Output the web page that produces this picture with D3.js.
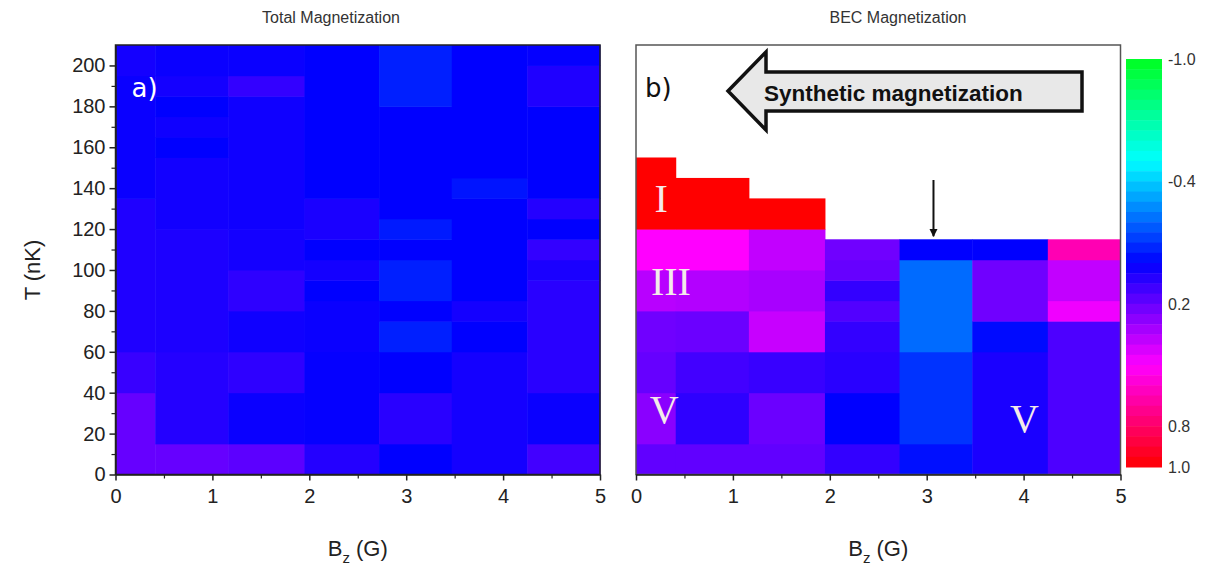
<!DOCTYPE html>
<html>
<head>
<meta charset="utf-8">
<script src="https://cdn.jsdelivr.net/npm/d3@7"></script>
<style>
  body { margin: 0; background: #fff; }
  svg { display: block; }
  .tick text { font-family: "Liberation Sans", Arial, sans-serif; }
</style>
</head>
<body>
<div id="main"></div>
<script>
// column edges along Bz (G), shared by both maps
const bzEdges = [0, 0.41, 1.165, 1.95, 2.72, 3.47, 4.25, 5];
const bzTicks = [0, 1, 2, 3, 4, 5];
const tTicks = [0, 20, 40, 60, 80, 100, 120, 140, 160, 180, 200];
const barTicks = [-1.0, -0.4, 0.2, 0.8, 1.0];

// each column: [T low, T high, magnetization]
const totalMag = [
  [[0, 40, 0.2], [40, 60, 0.11], [60, 135, 0.06], [135, 195, 0.02], [195, 210, 0.04]],
  [[0, 15, 0.2], [15, 60, 0.07], [60, 120, 0.055], [120, 155, 0.035], [155, 165, 0.0], [165, 175, 0.03], [175, 185, 0.0], [185, 195, 0.04], [195, 210, 0.02]],
  [[0, 15, 0.18], [15, 40, 0.02], [40, 60, 0.09], [60, 80, 0.03], [80, 100, 0.09], [100, 120, 0.04], [120, 185, 0.03], [185, 195, 0.1], [195, 210, 0.02]],
  [[0, 15, 0.07], [15, 60, 0.01], [60, 85, 0.02], [85, 95, 0.0], [95, 105, 0.04], [105, 115, 0.0], [115, 135, 0.05], [135, 210, 0.0]],
  [[0, 15, 0.0], [15, 40, 0.08], [40, 60, 0.0], [60, 75, -0.06], [75, 85, 0.0], [85, 105, -0.06], [105, 115, 0.0], [115, 125, -0.05], [125, 180, 0.0], [180, 210, -0.06]],
  [[0, 60, 0.04], [60, 75, 0.0], [75, 85, 0.04], [85, 135, 0.0], [135, 145, -0.04], [145, 210, 0.0]],
  [[0, 15, 0.13], [15, 40, 0.02], [40, 95, 0.08], [95, 105, 0.05], [105, 115, 0.1], [115, 125, 0.0], [125, 135, 0.07], [135, 180, 0.0], [180, 200, 0.06], [200, 210, 0.01]]
];

const becMag = [
  [[0, 15, 0.19], [15, 40, 0.27], [40, 60, 0.2], [60, 80, 0.22], [80, 100, 0.36], [100, 120, 0.5], [120, 155, 1.0]],
  [[0, 15, 0.19], [15, 40, 0.09], [40, 60, 0.13], [60, 80, 0.21], [80, 100, 0.35], [100, 120, 0.5], [120, 145, 1.0]],
  [[0, 15, 0.19], [15, 40, 0.21], [40, 60, 0.11], [60, 80, 0.39], [80, 100, 0.33], [100, 120, 0.38], [120, 135, 1.0]],
  [[0, 15, 0.1], [15, 40, 0.0], [40, 60, 0.08], [60, 75, 0.1], [75, 85, 0.16], [85, 95, 0.1], [95, 105, 0.2], [105, 115, 0.22]],
  [[0, 15, -0.03], [15, 60, -0.1], [60, 105, -0.21], [105, 115, 0.0]],
  [[0, 60, 0.05], [60, 75, -0.02], [75, 105, 0.22], [105, 115, 0.0]],
  [[0, 75, 0.15], [75, 85, 0.47], [85, 105, 0.38], [105, 115, 0.65]]
];

const W = 1205, H = 569;
const font = '"Liberation Sans", Arial, sans-serif';

const color = d3.scaleLinear()
  .domain([-1, -0.5, 0, 0.5, 1])
  .range(["#00ff20", "#00ffff", "#0000ff", "#ff00ff", "#ff0000"])
  .clamp(true);

const y = d3.scaleLinear().domain([0, 210]).range([474.5, 45]);

const svg = d3.select("#main").append("svg")
  .attr("width", W)
  .attr("height", H);

function drawPanel(cols, x0, x1, opts) {
  const x = d3.scaleLinear().domain([0, 5]).range([x0, x1]);
  const g = svg.append("g");

  cols.forEach((segs, i) => {
    g.selectAll(null)
      .data(segs)
      .join("rect")
      .attr("x", x(bzEdges[i]))
      .attr("width", x(bzEdges[i + 1]) - x(bzEdges[i]) + 0.5)
      .attr("y", d => y(d[1]))
      .attr("height", d => y(d[0]) - y(d[1]) + 0.5)
      .attr("fill", d => color(d[2]));
  });

  // frame
  g.append("rect")
    .attr("x", x0).attr("y", y(210))
    .attr("width", x1 - x0).attr("height", y(0) - y(210))
    .attr("fill", "none")
    .attr("stroke", opts.frame)
    .attr("stroke-width", 1.5);

  // x axis: major + minor ticks
  const xAxis = g.append("g")
    .attr("transform", `translate(0,${y(0)})`)
    .call(d3.axisBottom(x).tickValues(bzTicks).tickFormat(d3.format("d"))
      .tickSize(6).tickPadding(8).tickSizeOuter(0));
  xAxis.select(".domain").attr("stroke", "#222").attr("stroke-width", 1.5);
  xAxis.selectAll(".tick line").attr("stroke", "#222").attr("stroke-width", 1.5);
  xAxis.selectAll(".tick text").attr("font-size", 20).attr("fill", "#222");
  g.append("g")
    .attr("transform", `translate(0,${y(0)})`)
    .call(d3.axisBottom(x).tickValues(d3.range(0.5, 5, 1)).tickSize(4).tickFormat(""))
    .call(a => a.select(".domain").remove())
    .selectAll(".tick line").attr("stroke", "#222").attr("stroke-width", 1.2);

  if (opts.yAxis) {
    const yAxis = g.append("g")
      .attr("transform", `translate(${x0},0)`)
      .call(d3.axisLeft(y).tickValues(tTicks).tickFormat(d3.format("d"))
        .tickSize(6).tickPadding(4).tickSizeOuter(0));
    yAxis.select(".domain").attr("stroke", "#222").attr("stroke-width", 1.5);
    yAxis.selectAll(".tick line").attr("stroke", "#222").attr("stroke-width", 1.5);
    yAxis.selectAll(".tick text").attr("font-size", 20).attr("fill", "#222");
    g.append("g")
      .attr("transform", `translate(${x0},0)`)
      .call(d3.axisLeft(y).tickValues(d3.range(10, 210, 20)).tickSize(4).tickFormat(""))
      .call(a => a.select(".domain").remove())
      .selectAll(".tick line").attr("stroke", "#222").attr("stroke-width", 1.2);
  }

  // title
  svg.append("text")
    .attr("x", opts.titleX).attr("y", 23)
    .attr("text-anchor", "middle")
    .attr("font-family", font).attr("font-size", 16).attr("fill", "#333")
    .text(opts.title);

  // x label with subscript
  const xl = svg.append("text")
    .attr("x", (x0 + x1) / 2).attr("y", 556)
    .attr("text-anchor", "middle")
    .attr("font-family", font).attr("font-size", 22).attr("fill", "#222");
  xl.append("tspan").text("B");
  xl.append("tspan").attr("font-size", 15).attr("dy", 7).text("z");
  xl.append("tspan").attr("dy", -7).text(" (G)");

  // panel letter
  svg.append("text")
    .attr("x", x0 + opts.letterDx).attr("y", 97)
    .attr("font-family", '"DejaVu Sans", sans-serif').attr("font-size", 26)
    .attr("fill", opts.letterColor)
    .text(opts.letter);

  return x;
}

drawPanel(totalMag, 115.5, 600, {
  frame: "#222", yAxis: true, title: "Total Magnetization", titleX: 331,
  letter: "a)", letterColor: "#fff", letterDx: 16
});
const xb = drawPanel(becMag, 636, 1120.5, {
  frame: "#555", yAxis: false, title: "BEC Magnetization", titleX: 898,
  letter: "b)", letterColor: "#111", letterDx: 9
});

// y label
svg.append("text")
  .attr("transform", "translate(40,270) rotate(-90)")
  .attr("text-anchor", "middle")
  .attr("font-family", font).attr("font-size", 22).attr("fill", "#222")
  .text("T (nK)");

// roman numeral phase labels on the BEC map
const phaseLabels = [["I", 0.26, 128.5], ["III", 0.36, 88], ["V", 0.29, 25], ["V", 4.01, 21]];
svg.selectAll("text.phase")
  .data(phaseLabels)
  .join("text")
  .attr("class", "phase")
  .attr("x", d => xb(d[1]))
  .attr("y", d => y(d[2]))
  .attr("text-anchor", "middle")
  .attr("font-family", '"Liberation Serif", "Times New Roman", serif')
  .attr("font-size", 40)
  .attr("fill", "#f4eaea")
  .text(d => d[0]);

// big block arrow "Synthetic magnetization"
const arrowPts = [[728, 91], [766, 52], [766, 72], [1082, 72], [1082, 111], [766, 111], [766, 130]];
svg.append("path")
  .attr("d", "M" + arrowPts.map(p => p.join(",")).join("L") + "Z")
  .attr("fill", "#e8e8e8")
  .attr("stroke", "#111")
  .attr("stroke-width", 3.5)
  .attr("stroke-linejoin", "miter");
svg.append("text")
  .attr("x", 764).attr("y", 101)
  .attr("font-family", font).attr("font-weight", "bold").attr("font-size", 22.5)
  .attr("fill", "#111")
  .text("Synthetic magnetization");

// small arrow pointing to the phase boundary
svg.append("defs").append("marker")
  .attr("id", "head")
  .attr("viewBox", "0 0 10 10")
  .attr("refX", 9).attr("refY", 5)
  .attr("markerWidth", 4).attr("markerHeight", 5)
  .attr("orient", "auto")
  .append("path").attr("d", "M0,0L10,5L0,10Z").attr("fill", "#111");
svg.append("line")
  .attr("x1", xb(3.07)).attr("x2", xb(3.07))
  .attr("y1", y(144)).attr("y2", y(116.5))
  .attr("stroke", "#111").attr("stroke-width", 2)
  .attr("marker-end", "url(#head)");

// colour bar
const cb = d3.scaleLinear().domain([-1, 1]).range([59, 467]);
const nBands = 40;
const bands = d3.range(nBands).map(i => -1 + (i + 0.5) * 2 / nBands);
svg.selectAll("rect.band")
  .data(bands)
  .join("rect")
  .attr("class", "band")
  .attr("x", 1126)
  .attr("width", 36)
  .attr("y", d => cb(d - 1 / nBands))
  .attr("height", d => cb(d + 1 / nBands) - cb(d - 1 / nBands) + 0.5)
  .attr("fill", d => color(d));

svg.selectAll("text.cbl")
  .data(barTicks)
  .join("text")
  .attr("class", "cbl")
  .attr("x", 1168)
  .attr("y", d => cb(d) + 6)
  .attr("font-family", font).attr("font-size", 16).attr("fill", "#333")
  .text(d => d3.format(".1f")(d).replace("−", "-"));
</script>
</body>
</html>
